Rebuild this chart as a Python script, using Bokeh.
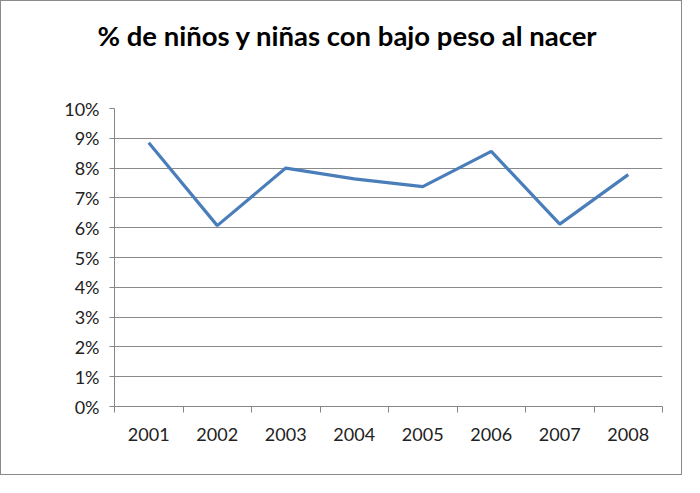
from bokeh.plotting import figure
from bokeh.models import FixedTicker, NumeralTickFormatter, ColumnDataSource, Range1d, Title
from bokeh.embed import file_html
from bokeh.resources import INLINE

title = "% de niños y niñas con bajo peso al nacer"
years = ["2001", "2002", "2003", "2004", "2005", "2006", "2007", "2008"]
values = [0.0885, 0.0607, 0.0800, 0.0764, 0.0738, 0.0856, 0.0612, 0.0778]
y_ticks = [0.00, 0.01, 0.02, 0.03, 0.04, 0.05, 0.06, 0.07, 0.08, 0.09, 0.10]

xpos = list(range(1, len(years) + 1))
src = ColumnDataSource(dict(x=xpos, y=values, year=years))

p = figure(width=682, height=475, output_backend="svg", toolbar_location=None,
           x_range=Range1d(0.5, len(years) + 0.5), y_range=Range1d(0, 0.10),
           min_border_left=113, min_border_right=21, min_border_top=0, min_border_bottom=70)
p.styles = {"border": "1px solid #8a8a8a"}
p.outline_line_color = None
p.background_fill_color = "white"
p.border_fill_color = "white"

p.title.text = title
p.title.text_font = "Lato"
p.title.text_font_size = "27.5px"
p.title.text_font_style = "bold"
p.title.text_color = "black"
p.title.align = "left"
p.title.offset = -17
p.title.standoff = 30

# spacer between title and plot frame
spacer = Title(text=" ", text_font_size="10px", standoff=29)
p.add_layout(spacer, "above")

p.line("x", "y", source=src, line_color="#4a7ebb", line_width=3.2)

# y axis
p.yaxis.ticker = FixedTicker(ticks=y_ticks)
p.yaxis.formatter = NumeralTickFormatter(format="0%")
p.yaxis.axis_line_color = "#868686"
p.yaxis.major_tick_line_color = "#868686"
p.yaxis.major_tick_out = 5
p.yaxis.major_tick_in = 0
p.yaxis.minor_tick_line_color = None
p.yaxis.major_label_text_font = "Lato"
p.yaxis.major_label_text_font_size = "18px"
p.yaxis.major_label_text_color = "#222222"
p.yaxis.major_label_standoff = 10

# x axis
p.xaxis.ticker = FixedTicker(ticks=xpos, minor_ticks=[i + 0.5 for i in range(0, len(years) + 1)])
p.xaxis.major_label_overrides = {x: y for x, y in zip(xpos, years)}
p.xaxis.axis_line_color = "#868686"
p.xaxis.major_tick_line_color = None
p.xaxis.minor_tick_line_color = "#868686"
p.xaxis.minor_tick_out = 6
p.xaxis.minor_tick_in = 0
p.xaxis.major_label_text_font = "Lato"
p.xaxis.major_label_text_font_size = "18px"
p.xaxis.major_label_text_color = "#222222"
p.xaxis.major_label_standoff = 15

p.xgrid.grid_line_color = None
p.ygrid.ticker = FixedTicker(ticks=y_ticks)
p.ygrid.grid_line_color = "#8a8a8a"
p.ygrid.grid_line_width = 1

open("out.html", "w").write(file_html(p, INLINE))
